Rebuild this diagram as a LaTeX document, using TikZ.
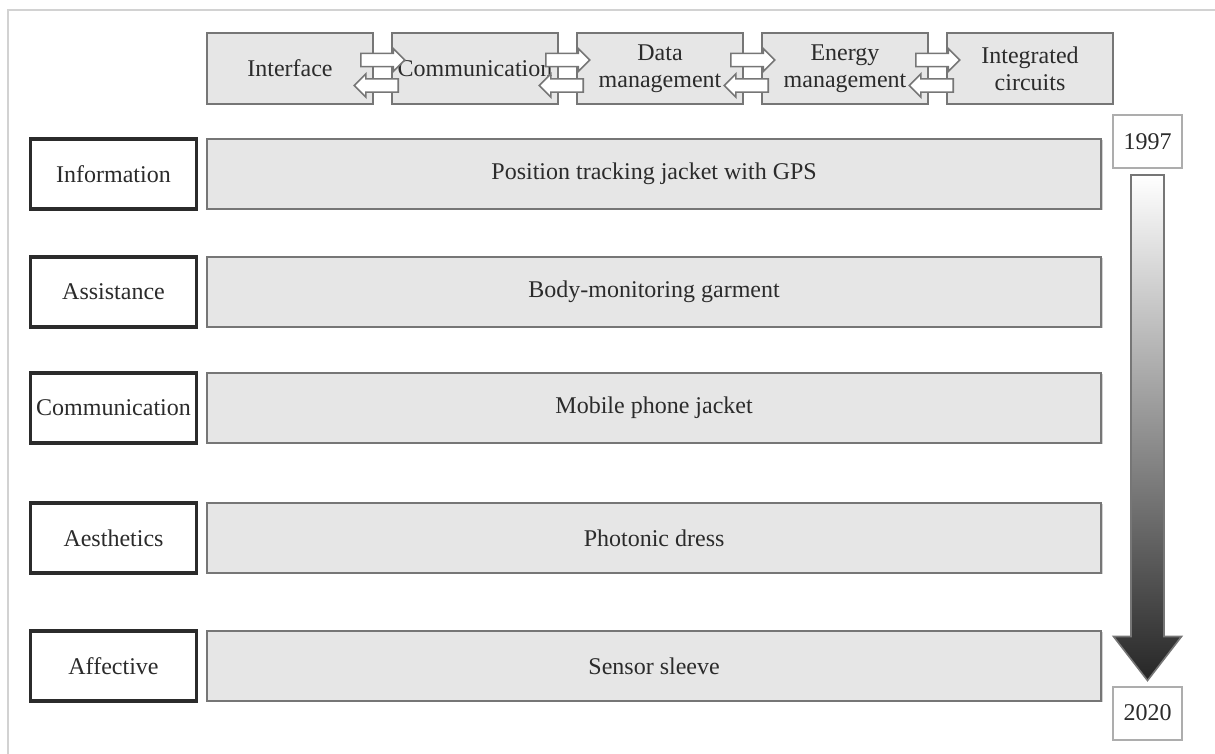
\documentclass[tikz,border=0pt]{standalone}
\usepackage{fontspec}
\setmainfont{Liberation Serif}
\usetikzlibrary{positioning, shapes.arrows, calc, shadows}
\definecolor{cline}{HTML}{767676}
\definecolor{cfill}{HTML}{E6E6E6}
\definecolor{cdark}{HTML}{2B2B2B}
\definecolor{cframe}{HTML}{D2D2D2}
\tikzset{
  every picture/.style={font=\fontsize{12}{13.5}\selectfont, line width=1pt},
  box/.style={draw=cline, fill=cfill, align=center, inner sep=1pt, text=cdark,
              drop shadow={shadow xshift=0.7pt, shadow yshift=-0.7pt, opacity=0.35}},
  topbox/.style={box, minimum width=83pt, minimum height=35.5pt},
  catbox/.style={draw=cdark, fill=white, line width=1.6pt, align=center, inner sep=1pt,
                 minimum width=83pt, minimum height=35pt, text=cdark},
  itembox/.style={box, minimum width=447pt, minimum height=35pt},
  yearbox/.style={draw=cline!60, fill=white, line width=1pt, minimum width=34.5pt,
                  minimum height=26.5pt, text=cdark},
  flow/.style={single arrow, draw=cline, fill=white, line width=0.8pt, minimum height=22pt,
               inner sep=2.9pt, single arrow head extend=2.5pt, single arrow head indent=0pt},
}
\begin{document}
\begin{tikzpicture}[x=0.5pt, y=-0.5pt]
  \useasboundingbox (0,0) rectangle (1215,754);
  \draw[cframe, line width=0.8pt] (1215,10) -- (8,10) -- (8,754);
  % building blocks
  \node[topbox] (ifc) at (290, 68.5) {Interface};
  \node[topbox] (com) at (475, 68.5) {Communication};
  \node[topbox] (dat) at (660, 68.5) {Data\\management};
  \node[topbox] (eng) at (845, 68.5) {Energy\\management};
  \node[topbox] (icc) at (1030, 68.5) {Integrated\\circuits};
  \foreach \a/\b in {ifc/com, com/dat, dat/eng, eng/icc} {
    \node[flow] at ($(\a.east)!0.5!(\b.west)+(-3,-8.5)$) {};
    \node[flow, shape border rotate=180] at ($(\a.east)!0.5!(\b.west)+(-3,17)$) {};
  }
  % categories and garments
  \node[catbox] (inf) at (113.5, 174) {Information};
  \node[itembox, right=4pt of inf] (gps) {Position tracking jacket with GPS};
  \node[catbox] (ast) at (113.5, 292) {Assistance};
  \node[itembox, right=4pt of ast] (bdy) {Body-monitoring garment};
  \node[catbox] (cmm) at (113.5, 408) {Communication};
  \node[itembox, right=4pt of cmm] (mob) {Mobile phone jacket};
  \node[catbox] (aes) at (113.5, 538) {Aesthetics};
  \node[itembox, right=4pt of aes] (pho) {Photonic dress};
  \node[catbox] (aff) at (113.5, 666) {Affective};
  \node[itembox, right=4pt of aff] (sns) {Sensor sleeve};
  % time line
  \node[yearbox] (y1) at (1147.5, 141.5) {1997};
  \node[yearbox] (y2) at (1147.5, 713) {2020};
  \shade[top color=white, middle color=gray!30, bottom color=black!85, draw=cline, line width=0.8pt]
    ($(y1.south)+(-16.5,6)$) -- ($(y1.south)+(16.5,6)$) -- ($(y2.north)+(16.5,-49)$)
    -- ($(y2.north)+(34,-49)$) -- ($(y2.north)+(0,-5)$) -- ($(y2.north)+(-34,-49)$)
    -- ($(y2.north)+(-16.5,-49)$) -- cycle;
\end{tikzpicture}
\end{document}
